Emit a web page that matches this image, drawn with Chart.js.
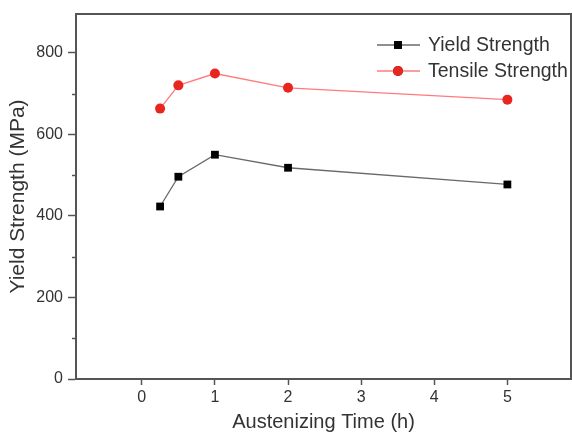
<!DOCTYPE html>
<html>
<head>
<meta charset="utf-8">
<script src="https://cdn.jsdelivr.net/npm/chart.js@4/dist/chart.umd.min.js"></script>
<style>
  html, body { margin: 0; padding: 0; background: #fff; }
  #wrap { width: 572px; height: 434px; }
</style>
</head>
<body>
<div id="wrap"><canvas id="strengthChart" width="572" height="434"></canvas></div>
<script>
const hours = [0.25, 0.5, 1, 2, 5];
const yieldStrength = [423, 496, 550, 518, 477];
const tensileStrength = [663, 720, 749, 714, 685];
const xTicks = [0, 1, 2, 3, 4, 5];
const yTicks = [0, 200, 400, 600, 800];
const yMinorTicks = [100, 300, 500, 700];

const axisColor = '#555';
const textColor = '#333';
const fontFamily = '"Liberation Sans", Arial, sans-serif';

const toPoints = vals => hours.map((h, i) => ({x: h, y: vals[i]}));

// frame, minor ticks and the in-plot legend
const extras = {
    id: 'extras',
    afterDraw(chart) {
        const {ctx, chartArea: a, scales} = chart;
        ctx.save();
        ctx.strokeStyle = axisColor;
        ctx.lineWidth = 2;
        ctx.beginPath();
        ctx.moveTo(a.left, a.top);
        ctx.lineTo(a.right, a.top);
        ctx.lineTo(a.right, a.bottom);
        ctx.stroke();

        ctx.lineWidth = 1.5;
        yMinorTicks.forEach(v => {
            const y = Math.round(scales.y.getPixelForValue(v)) + 0.5;
            ctx.beginPath();
            ctx.moveTo(a.left - 4, y);
            ctx.lineTo(a.left, y);
            ctx.stroke();
        });

        const rows = [45, 71];
        chart.data.datasets.forEach((ds, i) => {
            const y = rows[i];
            ctx.strokeStyle = ds.borderColor;
            ctx.lineWidth = ds.borderWidth;
            ctx.beginPath();
            ctx.moveTo(377, y);
            ctx.lineTo(420, y);
            ctx.stroke();
            Chart.helpers.drawPoint(ctx, {
                pointStyle: ds.pointStyle,
                radius: ds.pointRadius,
                borderWidth: 0
            }, 398, y);
            ctx.fillStyle = ds.pointBackgroundColor;
            ctx.fill();
            ctx.fillStyle = textColor;
            ctx.font = '19.5px ' + fontFamily;
            ctx.textAlign = 'left';
            ctx.textBaseline = 'middle';
            ctx.fillText(ds.label, 428, y + 1);
        });
        ctx.restore();
    }
};

const ctx = document.getElementById('strengthChart').getContext('2d');
const strengthChart = new Chart(ctx, {
    type: 'line',
    data: {
        datasets: [
            {
                label: 'Yield Strength',
                data: toPoints(yieldStrength),
                borderColor: '#6a6a6a',
                borderWidth: 1.3,
                pointStyle: 'rect',
                pointRadius: 5.5,
                pointBackgroundColor: '#000',
                pointBorderWidth: 0,
                tension: 0
            },
            {
                label: 'Tensile Strength',
                data: toPoints(tensileStrength),
                borderColor: '#ff7b7b',
                borderWidth: 1.3,
                pointStyle: 'circle',
                pointRadius: 5,
                pointBackgroundColor: '#e8261f',
                pointBorderWidth: 0,
                tension: 0
            }
        ]
    },
    options: {
        responsive: false,
        animation: false,
        layout: { autoPadding: false, padding: { top: 14, right: 1, left: 0, bottom: 0 } },
        plugins: {
            legend: { display: false },
            tooltip: { enabled: false }
        },
        scales: {
            x: {
                type: 'linear',
                min: -0.9,
                max: 5.87,
                afterBuildTicks: s => { s.ticks = xTicks.map(v => ({value: v})); },
                afterFit: s => { s.height = 55; s.paddingLeft = 0; s.paddingRight = 0; },
                grid: {
                    drawOnChartArea: false,
                    drawTicks: true,
                    tickLength: 6,
                    tickWidth: 1.5,
                    color: axisColor
                },
                border: { color: axisColor, width: 2 },
                ticks: {
                    color: textColor,
                    padding: 3,
                    maxRotation: 0,
                    font: { family: fontFamily, size: 16 }
                },
                title: {
                    display: true,
                    text: 'Austenizing Time (h)',
                    color: textColor,
                    padding: { top: 0, bottom: 0 },
                    font: { family: fontFamily, size: 20 }
                }
            },
            y: {
                min: 0,
                max: 895,
                afterBuildTicks: s => { s.ticks = yTicks.map(v => ({value: v})); },
                afterFit: s => { s.width = 76; s.paddingTop = 0; s.paddingBottom = 0; },
                grid: {
                    drawOnChartArea: false,
                    drawTicks: true,
                    tickLength: 8,
                    tickWidth: 1.5,
                    color: axisColor
                },
                border: { color: axisColor, width: 2 },
                ticks: {
                    color: textColor,
                    padding: 5,
                    font: { family: fontFamily, size: 16 }
                },
                title: {
                    display: true,
                    text: 'Yield Strength (MPa)',
                    color: textColor,
                    padding: { top: 6, bottom: 0 },
                    font: { family: fontFamily, size: 21 }
                }
            }
        }
    },
    plugins: [extras]
});
</script>
</body>
</html>
